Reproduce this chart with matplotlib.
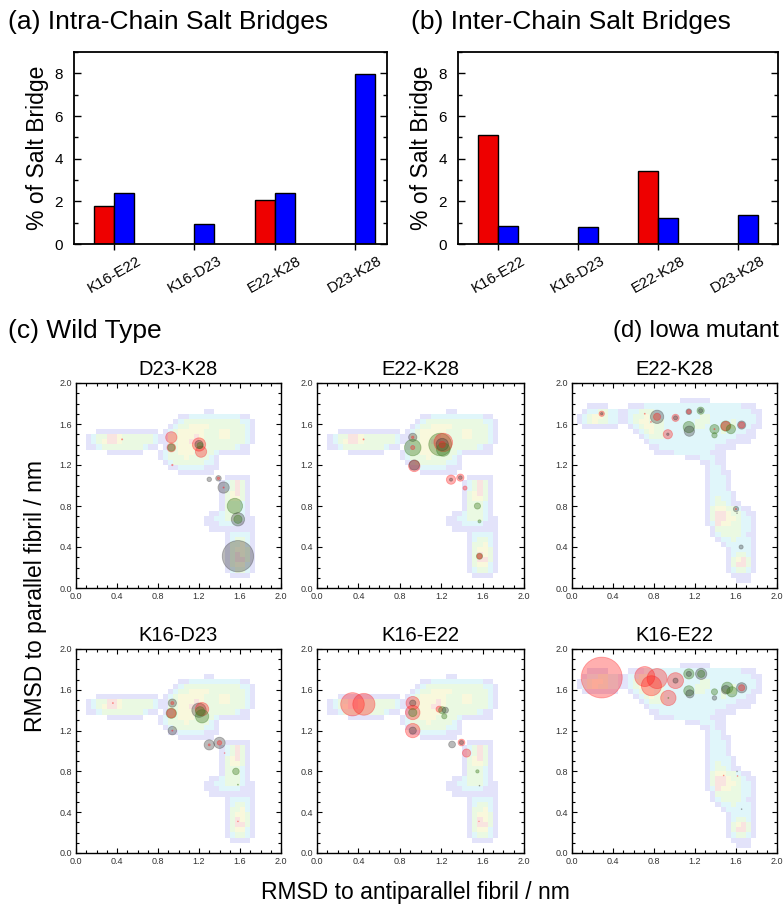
import numpy as np
import matplotlib
matplotlib.use('Agg')
import matplotlib.pyplot as plt
from matplotlib.colors import ListedColormap
from matplotlib.patches import Circle
from matplotlib.ticker import MultipleLocator
from matplotlib.transforms import ScaledTranslation

plt.rcParams['font.family'] = ['Liberation Sans', 'DejaVu Sans']

# ---- bar data (% of salt bridge) ----
pairs = ['K16-E22', 'K16-D23', 'E22-K28', 'D23-K28']
intra_red = [1.8, np.nan, 2.05, np.nan]
intra_blue = [2.4, 0.95, 2.4, 7.95]
inter_red = [5.1, np.nan, 3.4, np.nan]
inter_blue = [0.85, 0.8, 1.2, 1.35]

# ---- landscape grids, 40x40 cells of 0.05 nm: (row from top, first column, levels) ----
wt_runs = [
    (5, 25, "11"),
    (6, 20, "11222222222211"),
    (7, 19, "1233333333333221"),
    (8, 18, "12334444333333321"),
    (9, 4, "111111111111"), (9, 17, "123444443334433321"),
    (10, 2, "123355433333321"), (10, 17, "133444543334433321"),
    (11, 2, "123455433333321"), (11, 17, "133445543333333321"),
    (12, 2, "11233333333211"), (12, 17, "12344443333333211"),
    (13, 6, "1111111"), (13, 16, "123344433332111111"),
    (14, 16, "123334333321"),
    (15, 17, "12333333221"),
    (16, 18, "1122222111"),
    (17, 20, "1111111"),
    (18, 29, "11111"),
    (19, 28, "123531"),
    (20, 28, "123531"),
    (21, 28, "134531"),
    (22, 28, "134431"),
    (23, 28, "133321"),
    (24, 28, "133321"),
    (25, 26, "11233321"),
    (26, 25, "1122333211"),
    (27, 25, "1112222111"),
    (28, 26, "111111111"),
    (29, 29, "122221"),
    (30, 29, "123321"),
    (31, 29, "133421"),
    (32, 29, "134431"),
    (33, 29, "135431"),
    (34, 29, "135531"),
    (35, 29, "134421"),
    (36, 29, "123321"),
    (37, 30, "1111"),
]

iowa_runs = [
    (3, 21, "111111"),
    (4, 3, "1111"), (4, 11, "1112222222222222222222111"),
    (5, 2, "12233221"), (5, 10, "122333222222222222222222211"),
    (6, 1, "123443221"), (6, 10, "123343322222222332222222221"),
    (7, 1, "123433221"), (7, 10, "123443332222223332222322221"),
    (8, 2, "1111111"), (8, 11, "12344332222223322233322211"),
    (9, 12, "123433222222222223222211"),
    (10, 13, "12333222222222222221111"),
    (11, 14, "122222222222222211111"),
    (12, 15, "11222222222221111"),
    (13, 16, "11112222222111"),
    (14, 22, "11122211"),
    (15, 25, "11211"),
    (16, 26, "1221"),
    (17, 26, "12211"),
    (18, 26, "12221"),
    (19, 26, "12221"),
    (20, 26, "12221"),
    (21, 26, "122221"),
    (22, 26, "123221"),
    (23, 26, "1233211"),
    (24, 26, "134433211"),
    (25, 26, "1355433211"),
    (26, 26, "1355443221"),
    (27, 26, "1254433221"),
    (28, 27, "133333221"),
    (29, 27, "123333211"),
    (30, 28, "12232221"),
    (31, 29, "1222221"),
    (32, 30, "122221"),
    (33, 30, "123321"),
    (34, 30, "134531"),
    (35, 30, "135531"),
    (36, 30, "123321"),
    (37, 31, "1111"),
    (38, 32, "111"),
]

# ---- salt bridge circles: x, y, radius (nm), colour code ----
wt_d23k28 = [
    (0.93, 1.47, 0.055, 'r'), (0.93, 1.37, 0.042, 'r'), (0.93, 1.37, 0.035, 'g'),
    (0.94, 1.20, 0.007, 'r'), (0.45, 1.45, 0.006, 'r'),
    (1.20, 1.40, 0.065, 'r'), (1.22, 1.33, 0.055, 'r'), (1.20, 1.40, 0.04, 'k'),
    (1.21, 1.39, 0.03, 'g'), (1.30, 1.06, 0.022, 'k'), (1.39, 1.07, 0.027, 'k'),
    (1.39, 1.07, 0.012, 'r'), (1.44, 0.98, 0.055, 'k'), (1.44, 0.98, 0.006, 'r'),
    (1.55, 0.80, 0.075, 'g'), (1.58, 0.67, 0.065, 'k'), (1.58, 0.67, 0.04, 'g'),
    (1.58, 0.31, 0.153, 'k'),
]
wt_e22k28 = [
    (0.45, 1.45, 0.006, 'r'), (0.925, 1.47, 0.04, 'k'), (0.925, 1.47, 0.012, 'r'),
    (0.925, 1.37, 0.08, 'g'), (0.925, 1.37, 0.02, 'r'), (0.94, 1.19, 0.055, 'r'),
    (0.94, 1.20, 0.05, 'k'), (1.19, 1.40, 0.11, 'g'), (1.22, 1.42, 0.09, 'r'),
    (1.21, 1.40, 0.06, 'k'), (1.22, 1.35, 0.065, 'g'), (1.21, 1.40, 0.03, 'r'),
    (1.295, 1.057, 0.045, 'r'), (1.295, 1.057, 0.015, 'k'), (1.385, 1.077, 0.035, 'r'),
    (1.385, 1.077, 0.018, 'k'), (1.43, 0.975, 0.02, 'r'), (1.55, 0.80, 0.03, 'g'),
    (1.57, 0.65, 0.015, 'g'), (1.57, 0.31, 0.03, 'g'), (1.57, 0.31, 0.025, 'r'),
]
wt_k16d23 = [
    (0.36, 1.47, 0.005, 'r'), (0.94, 1.47, 0.04, 'k'), (0.94, 1.47, 0.015, 'r'),
    (0.93, 1.37, 0.05, 'g'), (0.93, 1.37, 0.045, 'r'), (0.94, 1.20, 0.042, 'k'),
    (0.94, 1.20, 0.006, 'r'), (1.20, 1.40, 0.07, 'k'), (1.23, 1.41, 0.065, 'r'),
    (1.23, 1.34, 0.065, 'g'), (1.21, 1.39, 0.045, 'g'), (1.30, 1.06, 0.05, 'k'),
    (1.30, 1.06, 0.01, 'r'), (1.40, 1.08, 0.055, 'k'), (1.40, 1.08, 0.022, 'r'),
    (1.45, 0.98, 0.004, 'r'), (1.56, 0.80, 0.032, 'g'), (1.58, 0.67, 0.005, 'g'),
    (1.58, 0.31, 0.004, 'r'),
]
wt_k16e22 = [
    (0.343, 1.458, 0.114, 'r'), (0.453, 1.458, 0.107, 'r'), (0.925, 1.47, 0.065, 'r'),
    (0.925, 1.47, 0.03, 'k'), (0.925, 1.377, 0.07, 'r'), (0.925, 1.377, 0.04, 'g'),
    (0.925, 1.20, 0.07, 'r'), (0.925, 1.20, 0.035, 'k'), (1.18, 1.41, 0.03, 'r'),
    (1.21, 1.40, 0.035, 'g'), (1.24, 1.40, 0.03, 'k'), (1.23, 1.34, 0.025, 'g'),
    (1.305, 1.064, 0.033, 'k'), (1.396, 1.083, 0.033, 'r'), (1.396, 1.083, 0.02, 'k'),
    (1.445, 0.98, 0.04, 'r'), (1.55, 0.80, 0.016, 'g'), (1.57, 0.66, 0.004, 'k'),
    (1.565, 0.31, 0.003, 'r'),
]
iowa_e22k28 = [
    (0.29, 1.70, 0.026, 'r'), (0.29, 1.70, 0.012, 'k'), (0.71, 1.70, 0.005, 'r'),
    (0.83, 1.67, 0.065, 'k'), (0.83, 1.67, 0.035, 'r'), (0.77, 1.62, 0.005, 'r'),
    (1.01, 1.66, 0.035, 'r'), (1.01, 1.66, 0.02, 'k'), (0.935, 1.50, 0.045, 'r'),
    (0.935, 1.50, 0.012, 'k'), (1.14, 1.72, 0.028, 'k'), (1.14, 1.72, 0.02, 'r'),
    (1.255, 1.73, 0.035, 'g'), (1.255, 1.73, 0.02, 'k'), (1.14, 1.57, 0.055, 'g'),
    (1.145, 1.53, 0.05, 'k'), (1.39, 1.55, 0.045, 'g'), (1.39, 1.55, 0.006, 'r'),
    (1.39, 1.49, 0.026, 'g'), (1.50, 1.58, 0.05, 'g'), (1.50, 1.58, 0.045, 'r'),
    (1.55, 1.55, 0.045, 'g'), (1.655, 1.59, 0.04, 'k'), (1.655, 1.59, 0.03, 'r'),
    (1.60, 0.77, 0.026, 'k'), (1.60, 0.77, 0.006, 'r'), (1.61, 0.73, 0.004, 'k'),
    (1.65, 0.40, 0.02, 'k'),
]
iowa_k16e22 = [
    (0.29, 1.72, 0.2, 'r'), (0.71, 1.73, 0.098, 'r'), (0.83, 1.71, 0.098, 'r'),
    (0.775, 1.64, 0.098, 'r'), (1.01, 1.69, 0.078, 'r'), (1.01, 1.69, 0.025, 'k'),
    (0.94, 1.52, 0.075, 'r'), (0.94, 1.52, 0.005, 'g'), (1.14, 1.756, 0.05, 'g'),
    (1.14, 1.756, 0.025, 'k'), (1.26, 1.756, 0.055, 'k'), (1.26, 1.756, 0.035, 'g'),
    (1.14, 1.59, 0.05, 'g'), (1.15, 1.56, 0.04, 'k'), (1.39, 1.58, 0.03, 'g'),
    (1.39, 1.52, 0.022, 'k'), (1.515, 1.62, 0.055, 'g'), (1.50, 1.60, 0.042, 'k'),
    (1.56, 1.58, 0.05, 'g'), (1.655, 1.62, 0.05, 'k'), (1.655, 1.62, 0.03, 'r'),
    (1.48, 0.76, 0.004, 'r'), (1.61, 0.80, 0.004, 'k'), (1.615, 0.755, 0.004, 'r'),
    (1.655, 0.43, 0.004, 'k'),
]

level_colors = ['white', '#e3e3fa', '#e0f6fa', '#eaf9e2', '#f9f8dc', '#f9e4e0']
circle_colors = {'r': ('#ff1a1a', 0.35), 'g': ('#3d7a1f', 0.38), 'k': ('#303030', 0.33)}

W, H = 783, 906
fig = plt.figure(figsize=(W / 100, H / 100), dpi=100)


def px_axes(x0, y0, x1, y1):
    return fig.add_axes([x0 / W, 1 - y1 / H, (x1 - x0) / W, (y1 - y0) / H])


def bar_panel(ax, red, blue, xmax):
    x = np.arange(len(pairs))
    ax.bar(x - 0.125, red, 0.25, color='#ee0000', edgecolor='black', linewidth=1.0)
    ax.bar(x + 0.125, blue, 0.25, color='#0000ff', edgecolor='black', linewidth=1.0)
    ax.set_xlim(-0.5, xmax)
    ax.set_ylim(0, 9)
    ax.set_xticks(x)
    ax.set_xticklabels(pairs, rotation=30, ha='center', fontsize=11)
    for lab in ax.get_xticklabels():
        lab.set_transform(lab.get_transform() + ScaledTranslation(-0.1, 0, fig.dpi_scale_trans))
    ax.set_yticks([0, 2, 4, 6, 8])
    ax.yaxis.set_minor_locator(MultipleLocator(1))
    ax.tick_params(axis='y', which='both', direction='in', right=True, labelsize=11, pad=8)
    ax.tick_params(axis='y', which='major', length=5, width=1)
    ax.tick_params(axis='y', which='minor', length=3, width=1)
    ax.tick_params(axis='x', direction='out', length=4, width=1, pad=3)
    ax.set_ylabel('% of Salt Bridge', fontsize=16.5, labelpad=4)
    for s in ax.spines.values():
        s.set_linewidth(1.3)


def map_panel(ax, runs, circles, title):
    grid = np.zeros((40, 40))
    for r, c0, levels in runs:
        for i, ch in enumerate(levels):
            grid[r, c0 + i] = int(ch)
    ax.imshow(grid, cmap=ListedColormap(level_colors), vmin=-0.5, vmax=5.5,
              extent=[0, 2, 0, 2], origin='upper', interpolation='nearest', aspect='auto')
    for cx, cy, rad, code in circles:
        col, a = circle_colors[code]
        ax.add_patch(Circle((cx, cy), rad, facecolor=col, edgecolor=col, alpha=a, linewidth=0.6))
    ax.set_xlim(0, 2)
    ax.set_ylim(0, 2)
    ax.xaxis.set_major_locator(MultipleLocator(0.4))
    ax.yaxis.set_major_locator(MultipleLocator(0.4))
    ax.xaxis.set_minor_locator(MultipleLocator(0.1))
    ax.yaxis.set_minor_locator(MultipleLocator(0.1))
    ax.xaxis.set_major_formatter(plt.FormatStrFormatter('%.1f'))
    ax.yaxis.set_major_formatter(plt.FormatStrFormatter('%.1f'))
    ax.tick_params(which='both', direction='in', top=True, right=True,
                   labelsize=6.5, labelcolor='#333333', pad=3)
    ax.tick_params(which='major', length=3.5, width=0.8)
    ax.tick_params(which='minor', length=2, width=0.8)
    ax.set_title(title, fontsize=14.5, pad=6)
    for s in ax.spines.values():
        s.set_linewidth(1.0)


ax_a = px_axes(74, 52, 387, 244)
bar_panel(ax_a, intra_red, intra_blue, 3.4)
ax_b = px_axes(458, 52, 778, 244)
bar_panel(ax_b, inter_red, inter_blue, 3.5)

map_panel(px_axes(76, 383, 281, 588), wt_runs, wt_d23k28, 'D23-K28')
map_panel(px_axes(317, 383, 524, 588), wt_runs, wt_e22k28, 'E22-K28')
map_panel(px_axes(572, 383, 777, 588), iowa_runs, iowa_e22k28, 'E22-K28')
map_panel(px_axes(76, 649, 281, 853), wt_runs, wt_k16d23, 'K16-D23')
map_panel(px_axes(317, 649, 524, 853), wt_runs, wt_k16e22, 'K16-E22')
map_panel(px_axes(572, 649, 777, 853), iowa_runs, iowa_k16e22, 'K16-E22')

fig.text(8 / W, 1 - 22 / H, '(a) Intra-Chain Salt Bridges', fontsize=19, va='center')
fig.text(411 / W, 1 - 22 / H, '(b) Inter-Chain Salt Bridges', fontsize=19, va='center')
fig.text(8 / W, 1 - 331 / H, '(c) Wild Type', fontsize=19, va='center')
fig.text(613 / W, 1 - 331 / H, '(d) Iowa mutant', fontsize=17.2, va='center')
fig.text(36 / W, 1 - 596 / H, 'RMSD to parallel fibril / nm', fontsize=16.5,
         rotation=90, ha='center', va='center')
fig.text(415 / W, 1 - 893 / H, 'RMSD to antiparallel fibril / nm', fontsize=16.5,
         ha='center', va='center')

fig.savefig('out.png', dpi=100)
